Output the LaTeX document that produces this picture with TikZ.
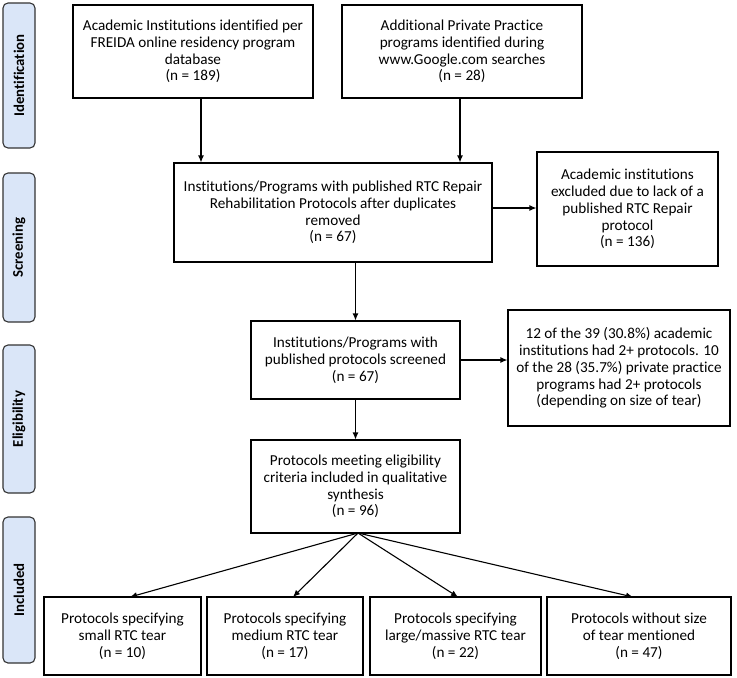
\documentclass[tikz,border=0pt]{standalone}
\usepackage{fontspec}
\setmainfont{Carlito}[Ligatures=NoCommon]
\usetikzlibrary{arrows.meta}
\definecolor{phase}{HTML}{DAE6F8}
\tikzset{
  box/.style={draw=black, line width=1.1pt, fill=white, align=center, inner sep=2pt, font=\fontsize{15.2}{16.8}\selectfont},
  phasebox/.style={draw=black!80, line width=1.1pt, fill=phase, rounded corners=5pt, align=center, font=\fontsize{14.8}{16}\selectfont\bfseries, rotate=90},
  arr/.style={line width=1.1pt, -{Latex[length=7pt,width=6pt]}}
}
\begin{document}
\begin{tikzpicture}[x=1pt,y=-1pt]
\useasboundingbox (0,0) rectangle (737,678);
% phase labels
\node[phasebox, minimum width=145pt, minimum height=32pt] (pid) at (19,75.5) {Identification};
\node[phasebox, minimum width=149pt, minimum height=32pt] (psc) at (19,247.5) {Screening};
\node[phasebox, minimum width=148pt, minimum height=32pt] (pel) at (19,419) {Eligibility};
\node[phasebox, minimum width=146pt, minimum height=32pt] (pin) at (19,590) {Included};
% boxes
\node[box, minimum width=240pt, minimum height=93pt] (b1) at (193,51.5) {Academic Institutions identified per\\FREIDA online residency program\\database\\(n = 189)};
\node[box, minimum width=240pt, minimum height=93pt] (b2) at (462,51.5) {Additional Private Practice\\programs identified during\\www.Google.com searches\\(n = 28)};
\node[box, minimum width=318pt, minimum height=99pt] (b3) at (333,212.5) {Institutions/Programs with published RTC Repair\\Rehabilitation Protocols after duplicates\\removed\\(n = 67)};
\node[box, minimum width=181pt, minimum height=114pt] (ex) at (627.5,209) {Academic institutions\\excluded due to lack of a\\published RTC Repair\\protocol\\(n = 136)};
\node[box, minimum width=222pt, minimum height=116pt] (nt) at (619,368) {12 of the 39 (30.8\%) academic\\institutions had 2+ protocols. 10\\of the 28 (35.7\%) private practice\\programs had 2+ protocols\\(depending on size of tear)};
\node[box, minimum width=209pt, minimum height=78pt] (sc) at (355.5,360) {Institutions/Programs with\\published protocols screened\\(n = 67)};
\node[box, minimum width=209pt, minimum height=93pt] (el) at (355.5,486.5) {Protocols meeting eligibility\\criteria included in qualitative\\synthesis\\(n = 96)};
\node[box, minimum width=157pt, minimum height=78pt] (c1) at (122.5,636) {Protocols specifying\\small RTC tear\\(n = 10)};
\node[box, minimum width=156pt, minimum height=78pt] (c2) at (285,636) {Protocols specifying\\medium RTC tear\\(n = 17)};
\node[box, minimum width=171pt, minimum height=78pt] (c3) at (455.5,636) {Protocols specifying\\large/massive RTC tear\\(n = 22)};
\node[box, minimum width=184pt, minimum height=78pt] (c4) at (639,636) {Protocols without size\\of tear mentioned\\(n = 47)};
% connectors
\coordinate (xa) at (201,0);
\coordinate (xb) at (460,0);
\coordinate (ya) at (0,208);
\draw[arr] (b1.south -| xa) -- (b3.north -| xa);
\draw[arr] (b2.south -| xb) -- (b3.north -| xb);
\draw[arr] (b3.east |- ya) -- (ex.west |- ya);
\draw[arr] (b3.south -| sc.north) -- (sc.north);
\draw[arr] (sc.east) -- (sc.east -| nt.west);
\draw[arr] (sc.south) -- (el.north);
\coordinate (o) at (358,533);
\coordinate (t1) at (130,597);
\coordinate (t2) at (293,597);
\coordinate (t3) at (458,597);
\coordinate (t4) at (633,597);
\draw[arr] (o) -- (t1);
\draw[arr] (o) -- (t2);
\draw[arr] (o) -- (t3);
\draw[arr] (o) -- (t4);
\end{tikzpicture}
\end{document}
